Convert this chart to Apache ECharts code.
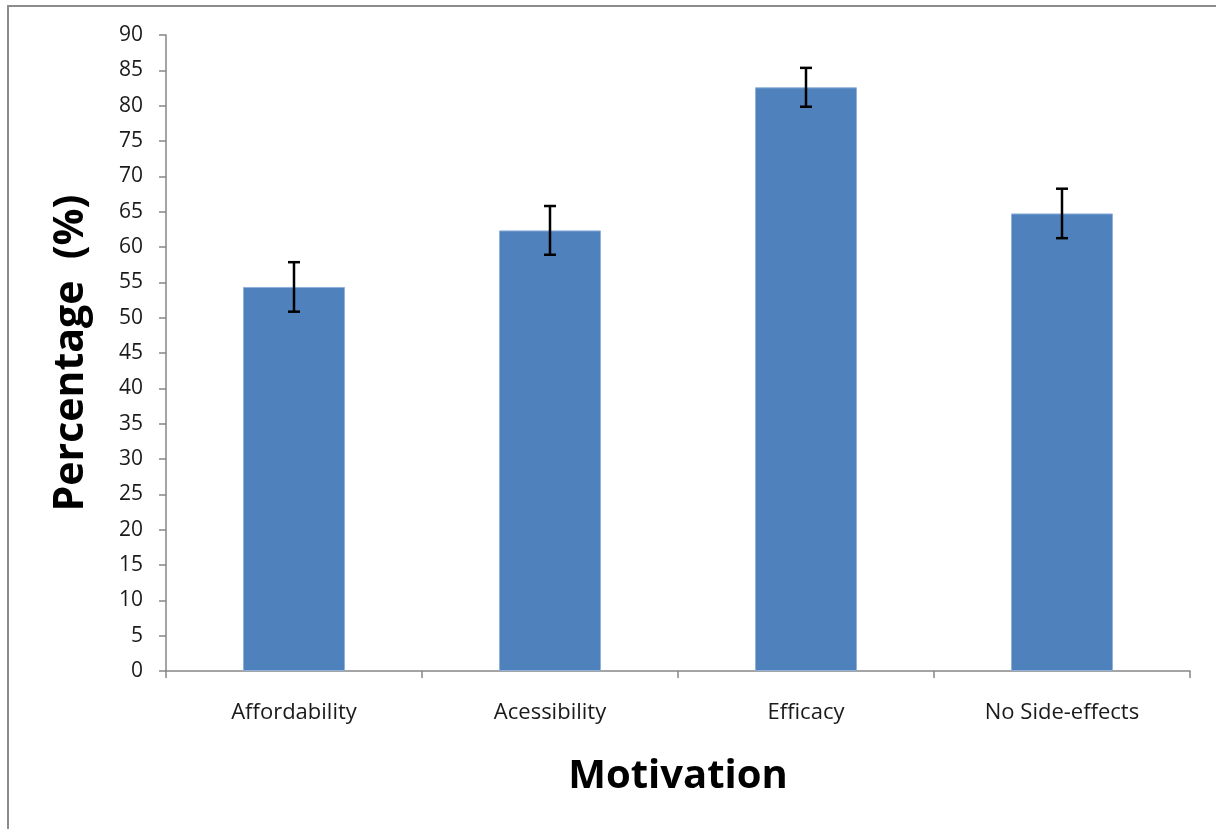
<!DOCTYPE html>
<html>
<head>
<meta charset="utf-8">
<script src="https://cdn.jsdelivr.net/npm/echarts@6/dist/echarts.min.js"></script>
<style>
html,body{margin:0;padding:0;background:#fff;}
#chart{width:1216px;height:829px;}
</style>
</head>
<body>
<div id="chart"></div>
<script>
var categories = ['Affordability', 'Acessibility', 'Efficacy', 'No Side-effects'];
var percentages = [54.35, 62.35, 82.6, 64.75];
var errors = [3.5, 3.45, 2.75, 3.5];
var yTicks = [0, 5, 10, 15, 20, 25, 30, 35, 40, 45, 50, 55, 60, 65, 70, 75, 80, 85, 90];

var errorData = categories.map(function (c, i) {
  return [i, percentages[i] - errors[i], percentages[i] + errors[i]];
});

var FONT = '"Open Sans", Lato, sans-serif';
var chart = echarts.init(document.getElementById('chart'));
chart.setOption({
  animation: false,
  backgroundColor: '#ffffff',
  graphic: [{
    type: 'rect',
    shape: { x: 8, y: 6, width: 1400, height: 1000 },
    style: { fill: 'none', stroke: '#8c8c8c', lineWidth: 2 },
    silent: true
  }],
  grid: { left: 166, right: 26, top: 35, bottom: 158, containLabel: false },
  xAxis: {
    type: 'category',
    data: categories,
    name: 'Motivation',
    nameLocation: 'middle',
    nameGap: 86,
    nameTextStyle: { fontFamily: FONT, fontWeight: 'bold', fontSize: 40, color: '#000' },
    axisLine: { lineStyle: { color: '#868686', width: 1.5 } },
    axisTick: { show: true, length: 7, lineStyle: { color: '#868686', width: 1.5 }, alignWithLabel: false },
    axisLabel: { fontFamily: FONT, fontSize: 22, color: '#1a1a1a', margin: 31 },
    splitLine: { show: false }
  },
  yAxis: {
    type: 'value',
    min: yTicks[0],
    max: yTicks[yTicks.length - 1],
    interval: yTicks[1] - yTicks[0],
    name: 'Percentage  (%)',
    nameLocation: 'middle',
    nameGap: 74,
    nameRotate: 90,
    nameTextStyle: { fontFamily: FONT, fontWeight: 'bold', fontSize: 41, color: '#000' },
    axisLine: { show: true, lineStyle: { color: '#868686', width: 1.5 } },
    axisTick: { show: true, length: 7, lineStyle: { color: '#868686', width: 1.5 } },
    axisLabel: { fontFamily: FONT, fontSize: 21, color: '#1a1a1a', margin: 23 },
    splitLine: { show: false }
  },
  series: [
    {
      type: 'bar',
      data: percentages,
      barWidth: 102,
      itemStyle: { color: '#4F81BD', borderColor: '#8fb1dc', borderWidth: 1 }
    },
    {
      type: 'custom',
      data: errorData,
      z: 10,
      renderItem: function (params, api) {
        var x = api.value(0);
        var lo = api.coord([x, api.value(1)]);
        var hi = api.coord([x, api.value(2)]);
        var hw = 6;
        var st = { stroke: '#000', lineWidth: 2.5 };
        return {
          type: 'group',
          children: [
            { type: 'line', shape: { x1: lo[0], y1: lo[1], x2: hi[0], y2: hi[1] }, style: st },
            { type: 'line', shape: { x1: lo[0] - hw, y1: lo[1], x2: lo[0] + hw, y2: lo[1] }, style: st },
            { type: 'line', shape: { x1: hi[0] - hw, y1: hi[1], x2: hi[0] + hw, y2: hi[1] }, style: st }
          ]
        };
      }
    }
  ]
});
</script>
</body>
</html>
